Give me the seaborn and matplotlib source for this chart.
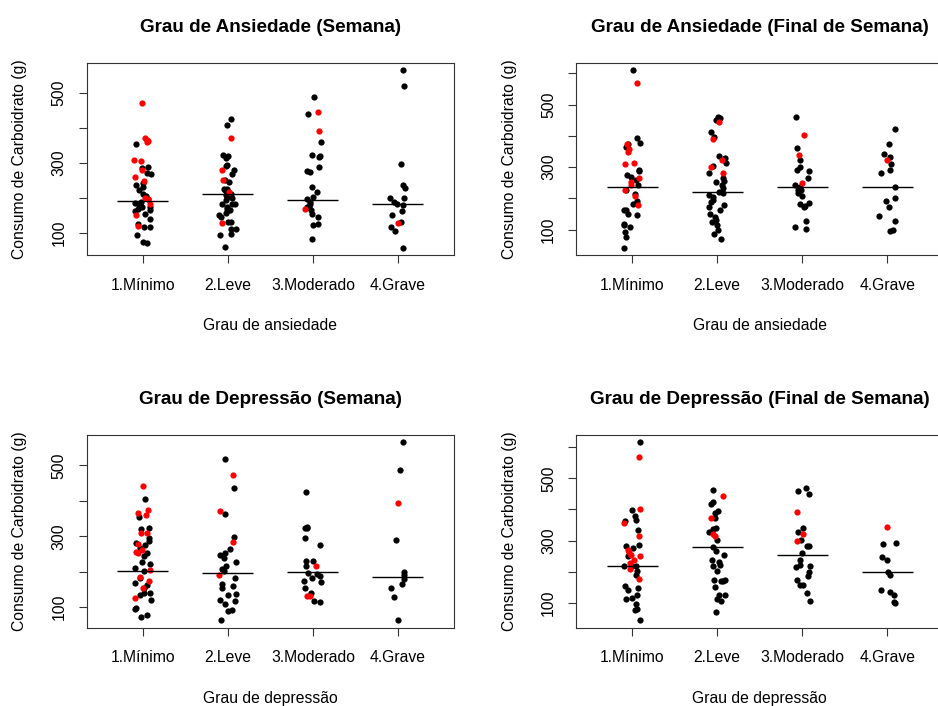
import numpy as np
import pandas as pd
import matplotlib
matplotlib.use("Agg")
import matplotlib.pyplot as plt
import seaborn as sns

categorias = ["1.Mínimo", "2.Leve", "3.Moderado", "4.Grave"]

# ---- Grau de Ansiedade (Semana)
ans_sem_preto = [
    [356, 288, 285, 272, 268, 242, 232, 237, 222, 211, 205, 196, 190, 186, 179, 175,
     170, 175, 167, 162, 154, 141, 125, 117, 117, 93, 74, 71],
    [425, 408, 323, 320, 316, 294, 291, 280, 270, 253, 246, 227, 227, 224, 213, 208,
     203, 201, 194, 184, 184, 184, 175, 170, 165, 165, 156, 151, 146, 132, 132, 112,
     112, 98, 93, 60],
    [490, 440, 361, 320, 318, 323, 289, 278, 275, 232, 218, 203, 196, 189, 184, 175,
     175, 165, 154, 146, 127, 122, 84],
    [567, 521, 297, 237, 230, 199, 199, 189, 184, 179, 163, 151, 132, 117, 106, 57],
]
ans_sem_vermelho = [
    [471, 371, 366, 364, 361, 309, 306, 280, 259, 248, 200, 196, 182, 153, 120],
    [371, 280, 251, 218, 129],
    [445, 393, 170],
    [128],
]
ans_sem_linha = [192, 212, 195, 183]

# ---- Grau de Ansiedade (Final de Semana)
ans_fds_preto = [
    [611, 392, 378, 373, 365, 292, 288, 274, 267, 258, 242, 228, 213, 192, 183, 164,
     162, 149, 146, 117, 114, 109, 93, 76, 41],
    [461, 456, 450, 413, 395, 335, 328, 312, 303, 280, 264, 256, 253, 242, 232, 221,
     216, 210, 205, 194, 189, 178, 173, 164, 151, 141, 130, 125, 114, 98, 85, 71],
    [461, 362, 322, 299, 290, 288, 264, 242, 237, 228, 226, 218, 207, 186, 181, 175,
     173, 128, 109, 103],
    [421, 373, 342, 333, 310, 290, 280, 237, 202, 192, 171, 144, 128, 98, 96],
]
ans_fds_vermelho = [
    [568, 374, 357, 349, 314, 310, 264, 253, 242, 228, 208, 180],
    [445, 389, 322, 299, 282],
    [402, 339, 250],
    [322],
]
ans_fds_linha = [236, 219, 236, 236]

# ---- Grau de Depressão (Semana)
dep_sem_preto = [
    [406, 355, 324, 321, 295, 286, 281, 276, 267, 253, 243, 226, 220, 210, 201, 182,
     168, 163, 154, 140, 138, 135, 121, 97, 95, 78, 72],
    [517, 437, 363, 297, 264, 253, 248, 239, 226, 215, 206, 201, 182, 166, 160, 154,
     137, 135, 121, 116, 107, 92, 88, 62],
    [425, 326, 324, 324, 295, 275, 229, 229, 215, 196, 194, 187, 182, 173, 170, 154,
     140, 116, 113],
    [566, 486, 289, 198, 189, 180, 166, 154, 128, 62],
]
dep_sem_vermelho = [
    [443, 374, 366, 361, 308, 308, 278, 262, 255, 253, 204, 185, 173, 154, 124],
    [472, 371, 283, 191],
    [215, 132, 132],
    [394],
]
dep_sem_linha = [203, 195, 199, 185]

# ---- Grau de Depressão (Final de Semana)
dep_fds_preto = [
    [616, 397, 378, 367, 362, 335, 287, 282, 276, 252, 220, 218, 218, 202, 191, 153,
     148, 143, 127, 116, 111, 98, 81, 76, 44],
    [461, 423, 416, 394, 389, 373, 341, 337, 327, 303, 279, 266, 255, 239, 230, 223,
     218, 202, 175, 175, 170, 170, 151, 127, 124, 111, 105, 70],
    [469, 458, 448, 341, 327, 301, 282, 282, 260, 237, 222, 218, 216, 198, 186, 175,
     159, 156, 132, 107],
    [292, 290, 247, 239, 198, 188, 143, 134, 127, 102, 100],
]
dep_fds_vermelho = [
    [567, 402, 355, 314, 271, 263, 255, 250, 239, 228, 209, 178],
    [444, 373, 322, 316],
    [392, 321, 298],
    [343],
]
dep_fds_linha = [220, 279, 255, 198]

titulos = ["Grau de Ansiedade (Semana)", "Grau de Ansiedade (Final de Semana)",
           "Grau de Depressão (Semana)", "Grau de Depressão (Final de Semana)"]
rotulos_x = ["Grau de ansiedade", "Grau de ansiedade",
             "Grau de depressão", "Grau de depressão"]
rotulo_y = "Consumo de Carboidrato (g)"

paineis = [
    (ans_sem_preto, ans_sem_vermelho, ans_sem_linha),
    (ans_fds_preto, ans_fds_vermelho, ans_fds_linha),
    (dep_sem_preto, dep_sem_vermelho, dep_sem_linha),
    (dep_fds_preto, dep_fds_vermelho, dep_fds_linha),
]

sns.set_style("ticks")
plt.rcParams["font.family"] = ["Liberation Sans", "DejaVu Sans"]
plt.rcParams["text.color"] = "black"
plt.rcParams["axes.labelcolor"] = "black"
plt.rcParams["xtick.color"] = "black"
plt.rcParams["ytick.color"] = "black"


def tabela(grupos):
    linhas = [(categorias[i], v) for i, g in enumerate(grupos) for v in g]
    return pd.DataFrame(linhas, columns=["grau", "carb"])


W, H = 938, 706
posicoes = [
    (86.7, 62.7), (576.0, 62.7),
    (86.7, 435.0), (576.0, 435.0),
]
aw, ah = 367.3, 192.5

fig = plt.figure(figsize=(W / 100, H / 100), dpi=100)
np.random.seed(7)
FS = 11.3

for k, (preto, verm, linha) in enumerate(paineis):
    x0, y0 = posicoes[k]
    ax = fig.add_axes([x0 / W, 1 - (y0 + ah) / H, aw / W, ah / H])
    sns.stripplot(data=tabela(preto), x="grau", y="carb", order=categorias,
                  color="black", jitter=0.1, size=4.5, linewidth=0, ax=ax)
    sns.stripplot(data=tabela(verm), x="grau", y="carb", order=categorias,
                  color="red", jitter=0.1, size=4.5, linewidth=0, ax=ax)
    pos = np.arange(len(categorias))
    ax.hlines(linha, pos - 0.3, pos + 0.3, color="black", lw=1.0, zorder=5)

    todos = [v for g in preto + verm for v in g]
    lo, hi = min(todos), max(todos)
    pad = 0.04 * (hi - lo)
    ax.set_ylim(lo - pad, hi + pad)
    ax.set_xlim(-0.66, 3.66)
    ticks = np.arange(100, hi + pad, 100)
    ax.set_yticks(ticks)
    ax.set_yticklabels([str(int(t)) if int(t) in (100, 300, 500) else "" for t in ticks],
                       rotation=90, va="center", fontsize=FS)
    ax.set_xticks(pos)
    ax.set_xticklabels(categorias, fontsize=FS)
    ax.tick_params(axis="both", length=5.5, width=0.8, color="#333333", direction="out")
    ax.tick_params(axis="x", pad=11)
    ax.tick_params(axis="y", pad=9)
    for s in ax.spines.values():
        s.set_visible(True)
        s.set_color("#333333")
        s.set_linewidth(0.8)

    ax.set_xlabel(rotulos_x[k], fontsize=FS, va="center")
    ax.xaxis.set_label_coords(0.5, -(325 - 254.3) / ah)
    ax.set_ylabel(rotulo_y, fontsize=FS, va="center")
    ax.yaxis.set_label_coords(-(66.7) / aw, 0.5)
    ax.set_title(titulos[k], fontsize=13.6, fontweight="bold", pad=22)

fig.savefig("out.png", dpi=100, facecolor="white")
